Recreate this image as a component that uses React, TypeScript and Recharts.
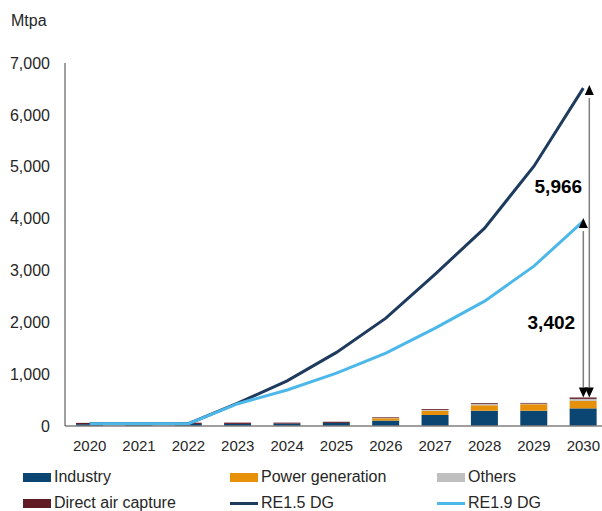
import React from "react";
import {
  Bar,
  ComposedChart,
  Line,
  ReferenceDot,
  ReferenceLine,
  XAxis,
  YAxis,
} from "recharts";

const FONT = "'Liberation Sans', Arial, sans-serif";

const years = ["2020", "2021", "2022", "2023", "2024", "2025", "2026", "2027", "2028", "2029", "2030"];
const industry = [35, 30, 40, 40, 45, 60, 105, 212, 295, 295, 340];
const powerGeneration = [0, 0, 0, 0, 0, 0, 45, 83, 105, 125, 145];
const others = [0, 0, 0, 0, 0, 0, 12, 17, 28, 12, 38];
const directAirCapture = [25, 10, 24, 25, 20, 22, 12, 16, 15, 13, 27];
const re15 = [45, 45, 45, 440, 870, 1420, 2080, 2930, 3815, 5010, 6516];
const re19 = [45, 45, 45, 430, 694, 1021, 1406, 1888, 2408, 3083, 3952];
const yTicks = [0, 1000, 2000, 3000, 4000, 5000, 6000, 7000];

const data = years.map((year, i) => ({
  year,
  industry: industry[i],
  power: powerGeneration[i],
  others: others[i],
  dac: directAirCapture[i],
  re15: re15[i],
  re19: re19[i],
}));

const last = data[data.length - 1];
const barTotal = last.industry + last.power + last.others + last.dac;
const gap15 = last.re15 - barTotal;
const gap19 = last.re19 - barTotal;

const fmt = (v: number) => v.toLocaleString("en-US");

const legendItems = [
  { name: "Industry", color: "#0B4672", kind: "bar" },
  { name: "Power generation", color: "#E69109", kind: "bar" },
  { name: "Others", color: "#BFBFBF", kind: "bar" },
  { name: "Direct air capture", color: "#5F1A24", kind: "bar" },
  { name: "RE1.5 DG", color: "#1E3A5C", kind: "line" },
  { name: "RE1.9 DG", color: "#4CB8EA", kind: "line" },
];

// vertical double-headed arrow, shifted right of the category centre
const makeArrow = (dx: number) => (props: any) => {
  const x = props.x1 + dx;
  const top = Math.min(props.y1, props.y2);
  const bottom = Math.max(props.y1, props.y2);
  const h = 10;
  const w = 4.5;
  return (
    <g>
      <line x1={x} y1={top + h} x2={x} y2={bottom - h} stroke="#7f7f7f" strokeWidth={1.5} />
      <path d={`M${x},${top - 3} L${x - w},${top - 3 + h} L${x + w},${top - 3 + h} Z`} fill="#000" />
      <path d={`M${x},${bottom} L${x - w},${bottom - h} L${x + w},${bottom - h} Z`} fill="#000" />
    </g>
  );
};

const makeLabel = (text: string, dx: number) => (props: any) => (
  <text
    x={props.cx + dx}
    y={props.cy}
    dy="0.35em"
    textAnchor="middle"
    fontFamily={FONT}
    fontSize={19}
    fontWeight="bold"
    fill="#000"
  >
    {text}
  </text>
);

export default function App() {
  return (
    <div
      style={{
        position: "absolute",
        left: 0,
        top: 0,
        width: 602,
        height: 511,
        overflow: "hidden",
        background: "#fff",
        fontFamily: FONT,
      }}
    >
      <div style={{ position: "absolute", left: 11, top: 13, fontSize: 16, lineHeight: "16px", color: "#262626" }}>
        Mtpa
      </div>
      <div style={{ position: "absolute", left: 0, top: 0 }}>
        <ComposedChart
          width={608}
          height={456}
          data={data}
          margin={{ top: 63, right: 0, bottom: 0, left: 0 }}
          barSize={27}
        >
          <XAxis
            dataKey="year"
            height={30}
            tickLine={false}
            tickSize={0}
            tickMargin={14}
            axisLine={{ stroke: "#7f7f7f", strokeWidth: 1.5 }}
            tick={{ fill: "#262626", fontSize: 15, fontFamily: FONT }}
            interval={0}
          />
          <YAxis
            width={65}
            domain={[0, 7000]}
            ticks={yTicks}
            tickFormatter={fmt}
            tickLine={false}
            tickSize={0}
            tickMargin={15}
            axisLine={{ stroke: "#404040", strokeWidth: 1 }}
            tick={{ fill: "#262626", fontSize: 16, fontFamily: FONT }}
          />
          <Bar dataKey="industry" stackId="a" fill="#0B4672" isAnimationActive={false} />
          <Bar dataKey="power" stackId="a" fill="#E69109" isAnimationActive={false} />
          <Bar dataKey="others" stackId="a" fill="#BFBFBF" isAnimationActive={false} />
          <Bar dataKey="dac" stackId="a" fill="#5F1A24" isAnimationActive={false} />
          <Line
            dataKey="re15"
            stroke="#1E3A5C"
            strokeWidth={3}
            dot={false}
            activeDot={false}
            isAnimationActive={false}
          />
          <Line
            dataKey="re19"
            stroke="#4CB8EA"
            strokeWidth={3}
            dot={false}
            activeDot={false}
            isAnimationActive={false}
          />
          <ReferenceLine
            segment={[
              { x: last.year, y: barTotal },
              { x: last.year, y: last.re15 },
            ]}
            shape={makeArrow(6)}
          />
          <ReferenceLine
            segment={[
              { x: last.year, y: barTotal },
              { x: last.year, y: last.re19 },
            ]}
            shape={makeArrow(0)}
          />
          <ReferenceDot x={last.year} y={4630} r={0} shape={makeLabel(fmt(gap15), -25)} />
          <ReferenceDot x={last.year} y={2000} r={0} shape={makeLabel(fmt(gap19), -32)} />
        </ComposedChart>
      </div>
      {legendItems.map((item, i) => {
        const col = i % 3;
        const row = Math.floor(i / 3);
        const left = [23, 230, 437][col];
        const top = [468, 494][row];
        return (
          <div
            key={item.name}
            style={{
              position: "absolute",
              left,
              top,
              height: 18,
              display: "flex",
              alignItems: "center",
              fontSize: 16,
              color: "#262626",
              whiteSpace: "nowrap",
            }}
          >
            <span
              style={{
                display: "inline-block",
                width: 28,
                height: item.kind === "bar" ? 9 : 3,
                background: item.color,
                marginRight: 3,
              }}
            />
            {item.name}
          </div>
        );
      })}
    </div>
  );
}
